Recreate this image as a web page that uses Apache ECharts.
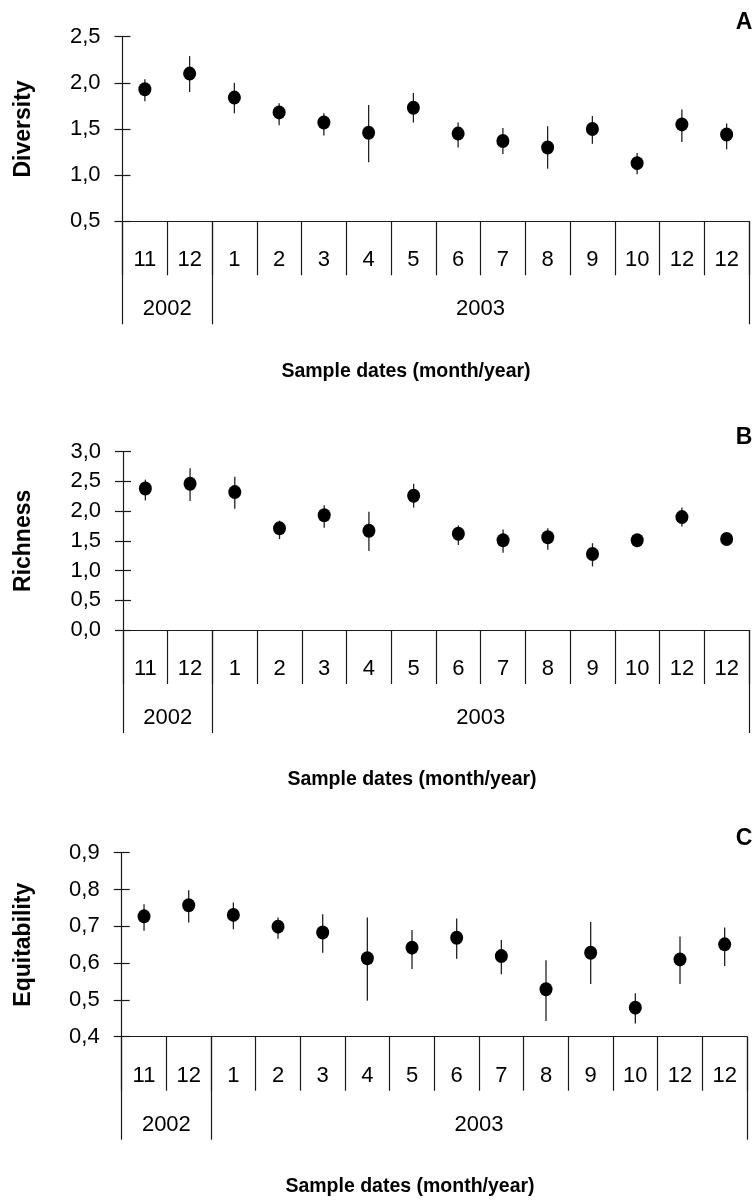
<!DOCTYPE html>
<html>
<head>
<meta charset="utf-8">
<script src="https://cdn.jsdelivr.net/npm/echarts@6/dist/echarts.min.js"></script>
<style>
  html, body { margin: 0; padding: 0; background: #fff; }
  #chart { width: 754px; height: 1200px; }
</style>
</head>
<body>
<div id="chart"></div>
<script>
// sampling months, in order, and how many belong to each year
const months = ['11', '12', '1', '2', '3', '4', '5', '6', '7', '8', '9', '10', '12', '12']
const years = ['2002', '2003']
const monthsPerYear = [2, 12]

// A - diversity (mean and bar ends)
const diversityMean = [1.93, 2.10, 1.84, 1.68, 1.57, 1.46, 1.73, 1.45, 1.37, 1.30, 1.50, 1.13, 1.55, 1.44]
const diversityLow = [1.80, 1.90, 1.67, 1.54, 1.43, 1.14, 1.57, 1.30, 1.23, 1.07, 1.34, 1.01, 1.36, 1.28]
const diversityHigh = [2.04, 2.29, 2.00, 1.78, 1.67, 1.76, 1.89, 1.57, 1.51, 1.53, 1.64, 1.24, 1.71, 1.56]

// B - richness
const richnessMean = [2.38, 2.46, 2.32, 1.71, 1.93, 1.67, 2.26, 1.62, 1.51, 1.56, 1.28, 1.51, 1.90, 1.53]
const richnessLow = [2.18, 2.17, 2.04, 1.53, 1.72, 1.33, 2.06, 1.43, 1.30, 1.35, 1.07, 1.46, 1.74, 1.49]
const richnessHigh = [2.53, 2.72, 2.58, 1.84, 2.10, 1.99, 2.46, 1.76, 1.69, 1.71, 1.46, 1.56, 2.06, 1.57]

// C - equitability
const equitabilityMean = [0.727, 0.757, 0.731, 0.699, 0.683, 0.613, 0.642, 0.669, 0.619, 0.529, 0.628, 0.479, 0.610, 0.651]
const equitabilityLow = [0.688, 0.710, 0.692, 0.666, 0.628, 0.498, 0.584, 0.612, 0.570, 0.443, 0.543, 0.436, 0.543, 0.592]
const equitabilityHigh = [0.760, 0.798, 0.765, 0.724, 0.733, 0.724, 0.690, 0.721, 0.663, 0.608, 0.712, 0.518, 0.672, 0.697]

const FONT = "'Liberation Sans', Arial, sans-serif"
const INK = '#1a1a1a'

// boundaries between years (in month slots) and year label slots
const yearBounds = [0]
monthsPerYear.forEach(n => yearBounds.push(yearBounds[yearBounds.length - 1] + n))
const boundarySlots = new Array(months.length + 1).fill('')
const yearSlots = boundarySlots.slice()
years.forEach((y, i) => { yearSlots[yearBounds[i] + monthsPerYear[i] / 2] = y })

const panels = [
  { letter: 'A', name: 'Diversity', mean: diversityMean, low: diversityLow, high: diversityHigh,
    min: 0.5, max: 2.5, step: 0.5, grid: { left: 122.5, right: 5, top: 36.7, height: 184.6 }, titleX: 406 },
  { letter: 'B', name: 'Richness', mean: richnessMean, low: richnessLow, high: richnessHigh,
    min: 0, max: 3, step: 0.5, grid: { left: 123, right: 5, top: 451.7, height: 178.3 }, titleX: 412 },
  { letter: 'C', name: 'Equitability', mean: equitabilityMean, low: equitabilityLow, high: equitabilityHigh,
    min: 0.4, max: 0.9, step: 0.1, grid: { left: 121.7, right: 7, top: 852.7, height: 184 }, titleX: 410 }
]

const lineStyle = { color: INK, width: 1.2 }
const grid = []
const xAxis = []
const yAxis = []
const series = []
const graphic = []

panels.forEach((p, i) => {
  grid.push(p.grid)
  const bottom = p.grid.top + p.grid.height

  // month axis: line, short ticks above it and the labels
  xAxis.push({
    gridIndex: i, type: 'category', position: 'bottom', data: months, boundaryGap: true,
    axisLine: { onZero: false, lineStyle },
    axisTick: { inside: true, length: 9, interval: 0, lineStyle },
    axisLabel: { interval: 0, margin: 28, fontSize: 22, color: '#000', fontFamily: FONT },
    splitLine: { show: false }
  })
  // month separators below the axis
  xAxis.push({
    gridIndex: i, type: 'category', position: 'bottom', data: boundarySlots, boundaryGap: false,
    axisLine: { show: false },
    axisTick: { length: 54, interval: 0, lineStyle },
    axisLabel: { show: false },
    splitLine: { show: false }
  })
  // year separators and year labels
  xAxis.push({
    gridIndex: i, type: 'category', position: 'bottom', data: yearSlots, boundaryGap: false,
    axisLine: { show: false },
    axisTick: { length: 103, interval: idx => yearBounds.includes(idx), lineStyle },
    axisLabel: { interval: 0, margin: 77, fontSize: 22, color: '#000', fontFamily: FONT },
    splitLine: { show: false }
  })

  const fmt = v => v.toFixed(1).replace('.', ',')
  yAxis.push({
    gridIndex: i, type: 'value', position: 'left', min: p.min, max: p.max, interval: p.step,
    axisLine: { show: true, lineStyle },
    axisTick: { show: true, length: 8, lineStyle },
    axisLabel: { formatter: fmt, margin: 22, fontSize: 22, color: '#000', fontFamily: FONT },
    splitLine: { show: false }
  })
  yAxis.push({
    gridIndex: i, type: 'value', position: 'left', min: p.min, max: p.max, interval: p.step,
    axisLine: { show: false },
    axisTick: { show: true, inside: true, length: 8, lineStyle },
    axisLabel: { show: false },
    splitLine: { show: false }
  })

  series.push({
    type: 'custom',
    xAxisIndex: i * 3, yAxisIndex: i * 2,
    data: p.mean.map((_, k) => [k, p.low[k], p.high[k]]),
    encode: { x: 0, y: [1, 2] },
    renderItem: (params, api) => {
      const top = api.coord([api.value(0), api.value(2)])
      const bot = api.coord([api.value(0), api.value(1)])
      return {
        type: 'line',
        shape: { x1: top[0], y1: top[1], x2: bot[0], y2: bot[1] },
        style: { stroke: '#222', lineWidth: 1.3 }
      }
    },
    silent: true
  })
  series.push({
    type: 'scatter',
    xAxisIndex: i * 3, yAxisIndex: i * 2,
    data: p.mean,
    symbol: 'circle',
    symbolSize: [13, 14],
    itemStyle: { color: '#000', opacity: 1 },
    z: 3
  })

  graphic.push({
    type: 'text', x: 24, y: p.grid.top + p.grid.height / 2, rotation: Math.PI / 2,
    style: { text: p.name, fontSize: 23, fontWeight: 'bold', fontFamily: FONT, fill: '#000', align: 'center', verticalAlign: 'middle' }
  })
  graphic.push({
    type: 'text', x: p.titleX, y: bottom + 150,
    style: { text: 'Sample dates (month/year)', fontSize: 19.5, fontWeight: 'bold', fontFamily: FONT, fill: '#000', align: 'center', verticalAlign: 'middle' }
  })
  graphic.push({
    type: 'text', x: 744, y: p.grid.top - 14,
    style: { text: p.letter, fontSize: 23, fontWeight: 'bold', fontFamily: FONT, fill: '#000', align: 'center', verticalAlign: 'middle' }
  })
})

const chart = echarts.init(document.getElementById('chart'))
chart.setOption({
  animation: false,
  backgroundColor: '#fff',
  grid,
  xAxis,
  yAxis,
  series,
  graphic
})
</script>
</body>
</html>
